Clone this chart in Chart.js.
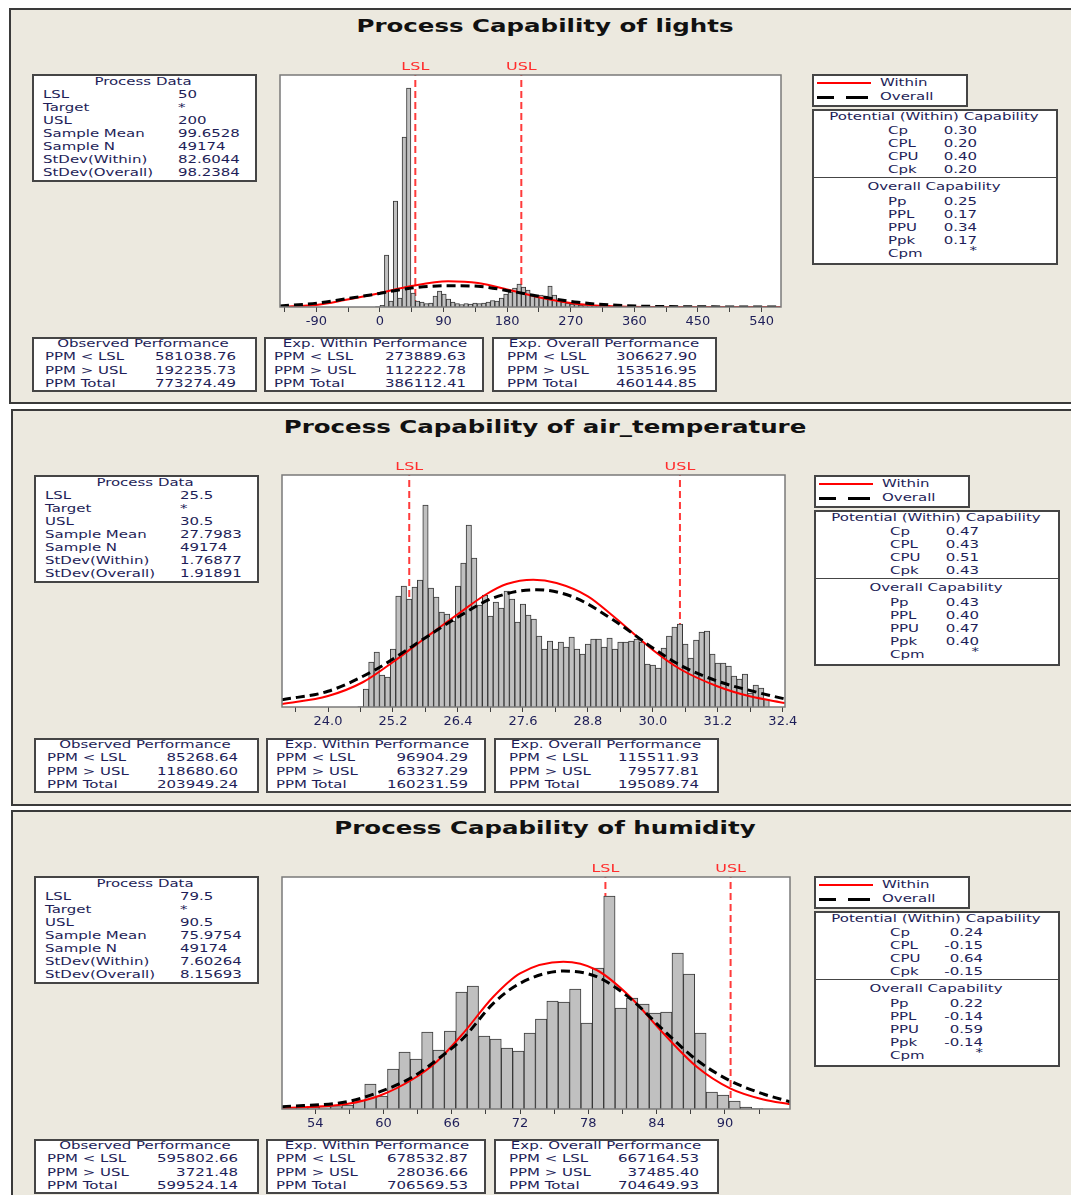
<!DOCTYPE html>
<html>
<head>
<meta charset="utf-8">
<script src="https://cdn.jsdelivr.net/npm/chart.js@4.4.1/dist/chart.umd.min.js"></script>
<style>
    html, body { margin: 0; padding: 0; background: #fff; }
    #root { position: relative; width: 1071px; height: 1195px; overflow: hidden; }
    .panel { position: absolute; background: #ece9df; border: 2px solid #3a3a3a; box-sizing: border-box; }
    .box { position: absolute; background: #fff; border: 2px solid #454545; box-sizing: border-box; }
    .t { position: absolute; white-space: pre; font: 11px "DejaVu Sans", sans-serif; line-height: 14px; color: #1e1e58; }
    .title { font: bold 17px "DejaVu Sans", sans-serif; line-height: 20px; color: #111; }
    .plot { position: absolute; }
    .ln { position: absolute; }
</style>
</head>
<body>
<div id="root"></div>
<script>
// ---- lights ----
const lightsBins = [-3.125, 3.125, 9.375, 15.625, 21.875, 28.125, 34.375, 40.625, 46.875, 53.125,
    59.375, 65.625, 71.875, 78.125, 84.375, 90.625, 96.875, 103.125, 109.375, 115.625,
    121.875, 128.125, 134.375, 140.625, 146.875, 153.125, 159.375, 165.625, 171.875, 178.125,
    184.375, 190.625, 196.875, 203.125, 209.375, 215.625, 221.875, 228.125, 234.375, 240.625,
    246.875, 253.125, 259.375, 265.625, 271.875, 278.125, 284.375, 290.625, 296.875, 303.125,
    309.375, 315.625];
const lightsCounts = [0.5, 1.7, 52, 6, 106, 9, 170, 219, 14, 6,
    5, 3.5, 4, 11, 16, 13, 8, 5, 3.5, 2.5,
    3.5, 3, 4, 3.5, 4, 5, 6.5, 6, 9, 13,
    15, 19, 23, 20, 17, 13, 12, 12, 11, 21,
    12, 7, 5, 4, 3, 2.5, 2, 1.5, 1.2, 1,
    0.8, 0.6];
const lightsCurveX = [-141.5, -87.7, -49.9, -2.8, 44.3, 96.3, 138.7, 185.8, 233, 280, 327, 374, 450, 567.5];
const lightsWithinY = [0.3, 2.3, 7, 13.5, 21, 25.7, 24, 16.5, 8.5, 3, 0.8, 0.1, 0, 0];
const lightsOverallY = [1, 4, 8, 13.3, 19, 21.3, 20.7, 15.7, 9.7, 4.7, 2, 0.8, 0.2, 0];
const lightsTicks = [-135, -90, -45, 0, 45, 90, 135, 180, 225, 270, 315, 360, 405, 450, 495, 540];
const lightsTickLabels = [-90, 0, 90, 180, 270, 360, 450, 540];

// ---- air_temperature ----
const tempBins = [24.6, 24.7, 24.8, 24.9, 25.0, 25.1, 25.2, 25.3, 25.4, 25.5,
    25.6, 25.7, 25.8, 25.9, 26.0, 26.1, 26.2, 26.3, 26.4, 26.5,
    26.6, 26.7, 26.8, 26.9, 27.0, 27.1, 27.2, 27.3, 27.4, 27.5,
    27.6, 27.7, 27.8, 27.9, 28.0, 28.1, 28.2, 28.3, 28.4, 28.5,
    28.6, 28.7, 28.8, 28.9, 29.0, 29.1, 29.2, 29.3, 29.4, 29.5,
    29.6, 29.7, 29.8, 29.9, 30.0, 30.1, 30.2, 30.3, 30.4, 30.5,
    30.6, 30.7, 30.8, 30.9, 31.0, 31.1, 31.2, 31.3, 31.4, 31.5,
    31.6, 31.7, 31.8, 31.9, 32.0, 32.1];
const tempCounts = [0.5, 18, 45, 55, 32, 30, 58, 111, 121, 108,
    120, 127, 202, 119, 110, 95, 93, 86, 121, 144,
    182, 149, 102, 112, 91, 105, 99, 116, 108, 85,
    103, 92, 88, 71, 58, 66, 58, 65, 60, 70,
    58, 53, 63, 68, 68, 60, 69, 58, 65, 65,
    66, 68, 65, 43, 42, 39, 59, 71, 80, 83,
    63, 49, 67, 75, 76, 53, 44, 44, 41, 31,
    28, 33, 14, 22, 19, 8];
const tempWithinX = [23.15, 24.0, 24.65, 25.2, 25.82, 26.4, 26.93, 27.3, 27.79, 28.22, 28.8, 29.27, 30.0, 30.5, 31.2, 31.79, 32.44];
const tempWithinY = [3, 11, 25, 45, 70, 93, 113, 123, 127.3, 124, 110.7, 90.7, 57, 38, 20.5, 10.7, 4];
const tempOverallX = [23.15, 24.0, 24.9, 25.2, 25.82, 26.4, 27.05, 27.85, 28.53, 29.27, 30.0, 30.5, 31.2, 31.85, 32.44];
const tempOverallY = [7.3, 15.7, 38, 48, 70, 90, 109, 117.3, 110, 87, 59, 42, 25.7, 15.7, 8];
const tempTicks = [23.4, 24.0, 24.6, 25.2, 25.8, 26.4, 27.0, 27.6, 28.2, 28.8, 29.4, 30.0, 30.6, 31.2, 31.8, 32.4];
const tempTickLabels = [24.0, 25.2, 26.4, 27.6, 28.8, 30.0, 31.2, 32.4];

// ---- humidity ----
const humBins = [51.85, 52.85, 53.85, 54.85, 55.85, 56.85, 57.85, 58.85, 59.85, 60.85,
    61.85, 62.85, 63.85, 64.85, 65.85, 66.85, 67.85, 68.85, 69.85, 70.85,
    71.85, 72.85, 73.85, 74.85, 75.85, 76.85, 77.85, 78.85, 79.85, 80.85,
    81.85, 82.85, 83.85, 84.85, 85.85, 86.85, 87.85, 88.85, 89.85, 90.85,
    91.85, 92.85];
const humCounts = [1.5, 1.5, 2, 3, 2.5, 4, 9, 25, 13, 40,
    57, 50, 77, 59, 78, 117, 123, 73, 70, 61,
    58, 76, 90, 108, 107, 120, 86, 141, 213, 101,
    111, 105, 96, 97, 156, 135, 76, 17, 14, 8,
    2, 0.5];
const humCurveX = [51.08, 56.77, 59.7, 62.6, 64.67, 67.0, 69.65, 72.0, 75.8, 78.73, 81.66, 84.59, 87.52, 90.45, 93.38, 95.72];
const humWithinY = [1, 5, 13.5, 30, 47.3, 75.7, 112.3, 135.7, 147.3, 139, 112.3, 75.7, 42.3, 20.7, 9.5, 4.7];
const humOverallY = [2.3, 7.3, 17.3, 32.3, 49, 70.7, 105.7, 125.7, 138, 132.3, 110.7, 79, 49, 28.3, 15, 7.3];
const humTicks = [54, 57, 60, 63, 66, 69, 72, 75, 78, 81, 84, 87, 90, 93];
const humTickLabels = [54, 60, 66, 72, 78, 84, 90];

// ---- texts ----
const processLabels = ['LSL', 'Target', 'USL', 'Sample Mean', 'Sample N', 'StDev(Within)', 'StDev(Overall)'];
const potentialLabels = ['Cp', 'CPL', 'CPU', 'Cpk'];
const overallLabels = ['Pp', 'PPL', 'PPU', 'Ppk', 'Cpm'];
const perfLabels = ['PPM < LSL', 'PPM > USL', 'PPM Total'];
const perfTitles = ['Observed Performance', 'Exp. Within Performance', 'Exp. Overall Performance'];

const lightsProcess = ['50', '*', '200', '99.6528', '49174', '82.6044', '98.2384'];
const lightsPotential = ['0.30', '0.20', '0.40', '0.20'];
const lightsOverall = ['0.25', '0.17', '0.34', '0.17', '*'];
const lightsPerf = [['581038.76', '192235.73', '773274.49'], ['273889.63', '112222.78', '386112.41'], ['306627.90', '153516.95', '460144.85']];

const tempProcess = ['25.5', '*', '30.5', '27.7983', '49174', '1.76877', '1.91891'];
const tempPotential = ['0.47', '0.43', '0.51', '0.43'];
const tempOverall = ['0.43', '0.40', '0.47', '0.40', '*'];
const tempPerf = [['85268.64', '118680.60', '203949.24'], ['96904.29', '63327.29', '160231.59'], ['115511.93', '79577.81', '195089.74']];

const humProcess = ['79.5', '*', '90.5', '75.9754', '49174', '7.60264', '8.15693'];
const humPotential = ['0.24', '-0.15', '0.64', '-0.15'];
const humOverall = ['0.22', '-0.14', '0.59', '-0.14', '*'];
const humPerf = [['595802.66', '3721.48', '599524.14'], ['678532.87', '28036.66', '706569.53'], ['667164.53', '37485.40', '704649.93']];

const root = document.getElementById('root');
const SX = 1.36;

function rect(x, y, w, h, cls) {
    const d = document.createElement('div');
    d.className = cls;
    Object.assign(d.style, { left: x + 'px', top: y + 'px', width: w + 'px', height: h + 'px' });
    root.appendChild(d);
    return d;
}

function put(str, x, y, align = 'left', extra = '', sx = SX) {
    const d = document.createElement('div');
    d.className = 't ' + extra;
    d.textContent = str;
    const lh = extra === 'title' ? 20 : 14;
    d.style.top = (y - lh / 2) + 'px';
    d.style.left = x + 'px';
    if (align === 'left') {
        d.style.transformOrigin = 'left center';
        d.style.transform = `scaleX(${sx})`;
    } else if (align === 'right') {
        d.style.transformOrigin = 'right center';
        d.style.transform = `translateX(-100%) scaleX(${sx})`;
    } else {
        d.style.transformOrigin = 'center center';
        d.style.transform = `translateX(-50%) scaleX(${sx})`;
    }
    root.appendChild(d);
}

function line(x, y, w, h, color) {
    const d = rect(x, y, w, h, 'ln');
    d.style.background = color;
}

// frame, white plot background and LSL/USL labels
const framePlugin = {
    id: 'frame',
    beforeDraw(chart) {
        const { ctx, chartArea: a } = chart;
        ctx.save();
        ctx.fillStyle = '#fff';
        ctx.fillRect(a.left, a.top, a.right - a.left, a.bottom - a.top);
        ctx.restore();
    },
    afterDraw(chart, args, opts) {
        const { ctx, chartArea: a, scales: { x } } = chart;
        ctx.save();
        ctx.strokeStyle = '#7a7a7a';
        ctx.lineWidth = 1.5;
        ctx.strokeRect(a.left, a.top, a.right - a.left, a.bottom - a.top);
        ctx.fillStyle = '#ff2d2d';
        ctx.font = '11px "DejaVu Sans"';
        ctx.textAlign = 'center';
        ctx.textBaseline = 'middle';
        opts.specs.forEach(([name, v]) => {
            ctx.save();
            ctx.translate(x.getPixelForValue(v), a.top - 8);
            ctx.scale(1.45, 1);
            ctx.fillText(name, 0, 0);
            ctx.restore();
        });
        ctx.restore();
    },
};

function drawHist(p) {
    const [L, T, W, H] = p.plot;
    const wrap = rect(L - 30, T - 20, W + 60, H + 48, 'plot');
    const cv = document.createElement('canvas');
    wrap.appendChild(cv);
    const pts = (xs, ys) => xs.map((v, i) => ({ x: v, y: ys[i] }));
    const spec = v => ({
        type: 'line',
        data: [{ x: v, y: 0 }, { x: v, y: p.yMax }],
        borderColor: '#ff3b3b',
        borderWidth: 2,
        borderDash: [7, 4],
        pointRadius: 0,
        order: 5,
    });
    new Chart(cv, {
        type: 'bar',
        data: {
            datasets: [
                spec(p.lsl),
                spec(p.usl),
                {
                    type: 'bar',
                    data: pts(p.bins, p.counts),
                    backgroundColor: '#c0c0c0',
                    borderColor: '#383838',
                    borderWidth: 1,
                    barPercentage: 1,
                    categoryPercentage: 1,
                    order: 3,
                },
                {
                    type: 'line',
                    data: pts(p.withinX, p.withinY),
                    borderColor: '#ff0000',
                    borderWidth: 2,
                    pointRadius: 0,
                    cubicInterpolationMode: 'monotone',
                    order: 2,
                },
                {
                    type: 'line',
                    data: pts(p.overallX, p.overallY),
                    borderColor: '#000',
                    borderWidth: 3,
                    borderDash: [9, 5],
                    pointRadius: 0,
                    cubicInterpolationMode: 'monotone',
                    order: 1,
                },
            ],
        },
        options: {
            responsive: true,
            maintainAspectRatio: false,
            animation: false,
            devicePixelRatio: 1,
            layout: { padding: { left: 30, right: 30, top: 20, bottom: 4 } },
            plugins: {
                legend: { display: false },
                tooltip: { enabled: false },
                frame: { specs: [['LSL', p.lsl], ['USL', p.usl]] },
            },
            scales: {
                x: {
                    type: 'linear',
                    min: p.xMin,
                    max: p.xMax,
                    offset: false,
                    afterBuildTicks: s => { s.ticks = p.ticks.map(v => ({ value: v })); },
                    afterFit: s => { s.height = 24; },
                    ticks: {
                        autoSkip: false,
                        maxRotation: 0,
                        padding: 2,
                        color: '#1e1e58',
                        font: { family: 'DejaVu Sans', size: 13 },
                        callback: v => (p.tickLabels.includes(v) ? v.toFixed(p.decimals) : ''),
                    },
                    grid: { display: true, offset: false, drawOnChartArea: false, drawTicks: true, tickLength: 5, color: '#404040' },
                    border: { display: false },
                },
                y: { display: false, min: 0, max: p.yMax },
            },
        },
        plugins: [framePlugin],
    });
}

function drawPanel(p) {
    const dx = p.dx, dy = p.dy;
    rect(p.frame[0], p.frame[1], p.frame[2], p.frame[3], 'panel');
    put(p.title, 545, 26 + dy, 'center', 'title', 1.44);

    // process data
    rect(32 + dx, 74 + dy, 225, 108, 'box');
    put('Process Data', 143 + dx, 82 + dy, 'center');
    processLabels.forEach((lab, i) => {
        put(lab, 43 + dx, 95 + dy + i * 13);
        put(p.process[i], 178 + dx, 95 + dy + i * 13);
    });

    // legend
    rect(812 + dx, 74 + dy, 156, 33, 'box');
    line(817 + dx, 82 + dy, 54, 2, '#ff0000');
    put('Within', 880 + dx, 83 + dy);
    line(817 + dx, 96 + dy, 17, 3, '#000');
    line(846 + dx, 96 + dy, 22, 3, '#000');
    put('Overall', 880 + dx, 97 + dy);

    // capability
    rect(812 + dx, 109 + dy, 246, 156, 'box');
    put('Potential (Within) Capability', 934 + dx, 117 + dy, 'center');
    potentialLabels.forEach((lab, i) => {
        put(lab, 888 + dx, 131 + dy + i * 13);
        put(p.potential[i], p.capRight, 131 + dy + i * 13, 'right');
    });
    line(813 + dx, 177 + dy, 244, 1, '#454545');
    put('Overall Capability', 934 + dx, 187 + dy, 'center');
    overallLabels.forEach((lab, i) => {
        put(lab, 888 + dx, 202 + dy + i * 13);
        put(p.overall[i], p.capRight, (i === 4 ? 251 : 202 + i * 13) + dy, 'right');
    });

    // performance boxes
    const boxes = [[32, 225, 143, 45, 236], [264, 220, 375, 274, 466], [492, 225, 604, 507, 697]];
    boxes.forEach(([bx, bw, hc, lx, vr], b) => {
        rect(bx + dx, 337 + dy, bw, 55, 'box');
        put(perfTitles[b], hc + dx, 344 + dy, 'center');
        perfLabels.forEach((lab, i) => {
            put(lab, lx + dx, 357 + dy + i * 13.5);
            put(p.perf[b][i], vr + dx, 357 + dy + i * 13.5, 'right');
        });
    });

    drawHist(p);
}

drawPanel({
    title: 'Process Capability of lights', dx: 0, dy: 0, frame: [9, 8, 1070, 396],
    process: lightsProcess, potential: lightsPotential, overall: lightsOverall, perf: lightsPerf, capRight: 977,
    plot: [280, 75, 501, 232], yMax: 232, xMin: -141.5, xMax: 567.5, lsl: 50, usl: 200,
    bins: lightsBins, counts: lightsCounts,
    withinX: lightsCurveX, withinY: lightsWithinY, overallX: lightsCurveX, overallY: lightsOverallY,
    ticks: lightsTicks, tickLabels: lightsTickLabels, decimals: 0,
});
drawPanel({
    title: 'Process Capability of air_temperature', dx: 2, dy: 401, frame: [11, 409, 1070, 397],
    process: tempProcess, potential: tempPotential, overall: tempOverall, perf: tempPerf, capRight: 979,
    plot: [282, 475, 503, 232], yMax: 232, xMin: 23.15, xMax: 32.44, lsl: 25.5, usl: 30.5,
    bins: tempBins, counts: tempCounts,
    withinX: tempWithinX, withinY: tempWithinY, overallX: tempOverallX, overallY: tempOverallY,
    ticks: tempTicks, tickLabels: tempTickLabels, decimals: 1,
});
drawPanel({
    title: 'Process Capability of humidity', dx: 2, dy: 802, frame: [11, 810, 1070, 400],
    process: humProcess, potential: humPotential, overall: humOverall, perf: humPerf, capRight: 983,
    plot: [282, 877, 508, 232], yMax: 232, xMin: 51.08, xMax: 95.72, lsl: 79.5, usl: 90.5,
    bins: humBins, counts: humCounts,
    withinX: humCurveX, withinY: humWithinY, overallX: humCurveX, overallY: humOverallY,
    ticks: humTicks, tickLabels: humTickLabels, decimals: 0,
});
</script>
</body>
</html>
